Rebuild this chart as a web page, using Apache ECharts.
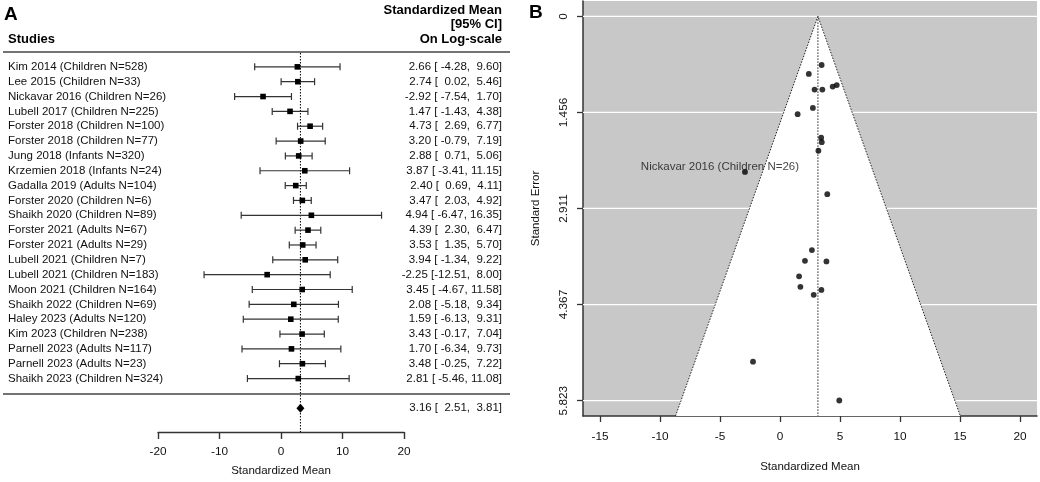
<!DOCTYPE html>
<html>
<head>
<meta charset="utf-8">
<script src="https://cdn.jsdelivr.net/npm/echarts@6/dist/echarts.min.js"></script>
<style>
html,body{margin:0;padding:0;background:#fff;}
#chart{width:1040px;height:482px;}
</style>
</head>
<body>
<div id="chart"></div>
<script>
const studies = [
  'Kim 2014 (Children N=528)', 'Lee 2015 (Children N=33)', 'Nickavar 2016 (Children N=26)',
  'Lubell 2017 (Children N=225)', 'Forster 2018 (Children N=100)', 'Forster 2018 (Children N=77)',
  'Jung 2018 (Infants N=320)', 'Krzemien 2018 (Infants N=24)', 'Gadalla 2019 (Adults N=104)',
  'Forster 2020 (Children N=6)', 'Shaikh 2020 (Children N=89)', 'Forster 2021 (Adults N=67)',
  'Forster 2021 (Adults N=29)', 'Lubell 2021 (Children N=7)', 'Lubell 2021 (Children N=183)',
  'Moon 2021 (Children N=164)', 'Shaikh 2022 (Children N=69)', 'Haley 2023 (Adults N=120)',
  'Kim 2023 (Children N=238)', 'Parnell 2023 (Adults N=117)', 'Parnell 2023 (Adults N=23)',
  'Shaikh 2023 (Children N=324)'
];
const estimates = [2.66, 2.74, -2.92, 1.47, 4.73, 3.20, 2.88, 3.87, 2.40, 3.47, 4.94, 4.39, 3.53, 3.94, -2.25, 3.45, 2.08, 1.59, 3.43, 1.70, 3.48, 2.81];
const lowerCI = [-4.28, 0.02, -7.54, -1.43, 2.69, -0.79, 0.71, -3.41, 0.69, 2.03, -6.47, 2.30, 1.35, -1.34, -12.51, -4.67, -5.18, -6.13, -0.17, -6.34, -0.25, -5.46];
const upperCI = [9.60, 5.46, 1.70, 4.38, 6.77, 7.19, 5.06, 11.15, 4.11, 4.92, 16.35, 6.47, 5.70, 9.22, 8.00, 11.58, 9.34, 9.31, 7.04, 9.73, 7.22, 11.08];
const standardErrors = [3.541, 1.388, 2.357, 1.482, 1.041, 2.036, 1.110, 3.714, 0.872, 0.737, 5.821, 1.064, 1.110, 2.694, 5.232, 4.145, 3.704, 3.939, 1.839, 4.099, 1.906, 4.219];
const summaryValues = [3.16, 2.51, 3.81];
const forestTicks = [-20, -10, 0, 10, 20];
const funnelXTicks = [-15, -10, -5, 0, 5, 10, 15, 20];
const funnelYTicks = [0, 1.456, 2.911, 4.367, 5.823];
const funnelYLabels = ['0', '1.456', '2.911', '4.367', '5.823'];
const labelledStudy = 2;

const FONT = '"Liberation Sans", Arial, Helvetica, sans-serif';
const FS = 11.5;
const TXT = '#111';

function f2(v) { return v.toFixed(2); }
function ciText(e, lo, hi) {
  return f2(e) + ' [' + f2(lo).padStart(6, ' ') + ', ' + f2(hi).padStart(5, ' ') + ']';
}

const forestData = studies.map((s, i) => [i, estimates[i], lowerCI[i], upperCI[i]]);
const FY_MIN = -1, FY_MAX = 24.6;
const FUN_X_MIN = -16.42, FUN_X_MAX = 21.42, FUN_Y_MIN = -0.233, FUN_Y_MAX = 6.056;

const chart = echarts.init(document.getElementById('chart'), null, {renderer: 'canvas'});

const option = {
  animation: false,
  backgroundColor: '#fff',
  textStyle: {fontFamily: FONT},
  grid: [
    {left: 158, right: 1040 - 404, top: 52, bottom: 482 - 433, containLabel: false},
    {left: 583, right: 3, top: 1, bottom: 482 - 416, containLabel: false, show: true, backgroundColor: '#c8c8c8', borderWidth: 0}
  ],
  xAxis: [
    {
      gridIndex: 0, type: 'value', min: -20, max: 20, interval: 10,
      axisLine: {show: true, onZero: false, lineStyle: {color: '#333', width: 1.4}},
      axisTick: {show: true, length: 7, lineStyle: {color: '#333', width: 1.4}},
      axisLabel: {color: TXT, fontSize: FS + 0.3, fontFamily: FONT, margin: 14},
      splitLine: {show: false},
      name: 'Standardized Mean', nameLocation: 'middle', nameGap: 33,
      nameTextStyle: {color: TXT, fontSize: FS, fontFamily: FONT}
    },
    {
      gridIndex: 1, type: 'value', min: FUN_X_MIN, max: FUN_X_MAX,
      axisLine: {show: true, onZero: false, lineStyle: {color: '#333', width: 1.5}},
      axisTick: {show: true, length: 6, customValues: funnelXTicks, lineStyle: {color: '#333', width: 1.3}},
      axisLabel: {color: TXT, fontSize: FS + 0.3, fontFamily: FONT, margin: 15, customValues: funnelXTicks},
      splitLine: {show: false},
      name: 'Standardized Mean', nameLocation: 'middle', nameGap: 45,
      nameTextStyle: {color: TXT, fontSize: FS, fontFamily: FONT}
    }
  ],
  yAxis: [
    {gridIndex: 0, type: 'value', min: FY_MIN, max: FY_MAX, inverse: true, show: false},
    {
      gridIndex: 1, type: 'value', min: FUN_Y_MIN, max: FUN_Y_MAX, inverse: true,
      axisLine: {show: true, onZero: false, lineStyle: {color: '#333', width: 1.5}},
      axisTick: {show: true, length: 6, customValues: funnelYTicks, lineStyle: {color: '#333', width: 1.3}},
      axisLabel: {color: TXT, fontSize: FS + 0.3, fontFamily: FONT, margin: 13, rotate: 90,
        customValues: funnelYTicks,
        formatter: function (v) {
          const idx = funnelYTicks.indexOf(v);
          return idx >= 0 ? funnelYLabels[idx] : '';
        }},
      splitLine: {show: false},
      name: 'Standard Error', nameLocation: 'middle', nameGap: 41, nameRotate: 90,
      nameTextStyle: {color: TXT, fontSize: FS, fontFamily: FONT}
    }
  ],
  graphic: [
    {type: 'text', left: 4, top: 5, style: {text: 'A', fill: '#000', font: 'bold 19px ' + FONT}},
    {type: 'text', left: 529, top: 3, style: {text: 'B', fill: '#000', font: 'bold 19px ' + FONT}},
    {type: 'text', x: 8, y: 39.5, style: {text: 'Studies', fill: '#000', font: 'bold 13px ' + FONT, align: 'left', verticalAlign: 'middle'}},
    {type: 'text', x: 502, y: 10.5, style: {text: 'Standardized Mean', fill: '#000', font: 'bold 13px ' + FONT, align: 'right', verticalAlign: 'middle'}},
    {type: 'text', x: 502, y: 24.5, style: {text: '[95% CI]', fill: '#000', font: 'bold 13px ' + FONT, align: 'right', verticalAlign: 'middle'}},
    {type: 'text', x: 502, y: 39.5, style: {text: 'On Log-scale', fill: '#000', font: 'bold 13px ' + FONT, align: 'right', verticalAlign: 'middle'}},
    {type: 'line', shape: {x1: 3, y1: 52, x2: 510, y2: 52}, style: {stroke: '#444', lineWidth: 1.7}},
    {type: 'line', shape: {x1: 3, y1: 394, x2: 510, y2: 394}, style: {stroke: '#444', lineWidth: 1.7}}
  ],
  series: [
    {
      type: 'custom', xAxisIndex: 0, yAxisIndex: 0, z: 3,
      clip: false,
      data: forestData,
      renderItem: function (params, api) {
        const k = api.value(0), e = api.value(1), lo = api.value(2), hi = api.value(3);
        const pe = api.coord([e, k]);
        const pl = api.coord([lo, k]);
        const ph = api.coord([hi, k]);
        const y = pe[1];
        const ls = {stroke: '#333', lineWidth: 1.2};
        return {
          type: 'group',
          children: [
            {type: 'line', shape: {x1: pl[0], y1: y, x2: ph[0], y2: y}, style: ls},
            {type: 'line', shape: {x1: pl[0], y1: y - 3.5, x2: pl[0], y2: y + 3.5}, style: ls},
            {type: 'line', shape: {x1: ph[0], y1: y - 3.5, x2: ph[0], y2: y + 3.5}, style: ls},
            {type: 'rect', shape: {x: pe[0] - 2.8, y: y - 2.8, width: 5.6, height: 5.6}, style: {fill: '#000'}},
            {type: 'text', x: 8, y: y, style: {text: studies[params.dataIndex], fill: TXT, fontSize: FS, fontFamily: FONT, align: 'left', verticalAlign: 'middle'}},
            {type: 'text', x: 502, y: y, style: {text: ciText(e, lo, hi), fill: TXT, fontSize: FS, fontFamily: FONT, align: 'right', verticalAlign: 'middle'}}
          ]
        };
      }
    },
    {
      type: 'custom', xAxisIndex: 0, yAxisIndex: 0, z: 2,
      clip: false,
      data: [[studies.length + 1, summaryValues[0], summaryValues[1], summaryValues[2]]],
      renderItem: function (params, api) {
        const k = api.value(0), e = api.value(1), lo = api.value(2), hi = api.value(3);
        const pe = api.coord([e, k]);
        const pl = api.coord([lo, k]);
        const ph = api.coord([hi, k]);
        const top = api.coord([e, FY_MIN]);
        const bot = api.coord([e, FY_MAX]);
        const y = pe[1];
        return {
          type: 'group',
          children: [
            {type: 'line', shape: {x1: top[0], y1: top[1] + 1, x2: bot[0], y2: bot[1]}, style: {stroke: '#000', lineWidth: 1, lineDash: [1.5, 1.5]}},
            {type: 'polygon', shape: {points: [[pl[0], y], [pe[0], y - 4.5], [ph[0], y], [pe[0], y + 4.5]]}, style: {fill: '#000'}},
            {type: 'text', x: 502, y: y, style: {text: ciText(e, lo, hi), fill: TXT, fontSize: FS, fontFamily: FONT, align: 'right', verticalAlign: 'middle'}}
          ]
        };
      }
    },
    {
      type: 'custom', xAxisIndex: 1, yAxisIndex: 1, z: 1,
      silent: true,
      data: [[summaryValues[0]]],
      renderItem: function (params, api) {
        const c = api.value(0);
        const children = [];
        funnelYTicks.forEach(function (t) {
          const a = api.coord([FUN_X_MIN, t]);
          const b = api.coord([FUN_X_MAX, t]);
          children.push({type: 'line', shape: {x1: a[0], y1: a[1], x2: b[0], y2: b[1]}, style: {stroke: '#fff', lineWidth: 1.2}});
        });
        const apex = api.coord([c, 0]);
        const bl = api.coord([c - 1.96 * FUN_Y_MAX, FUN_Y_MAX]);
        const br = api.coord([c + 1.96 * FUN_Y_MAX, FUN_Y_MAX]);
        const cb = api.coord([c, FUN_Y_MAX]);
        children.push({type: 'polygon', shape: {points: [apex, bl, br]}, style: {fill: '#fff'}});
        const dot = {stroke: '#222', lineWidth: 1, lineDash: [1.5, 1.5], fill: null};
        children.push({type: 'polyline', shape: {points: [bl, apex, br]}, style: dot});
        children.push({type: 'line', shape: {x1: apex[0], y1: apex[1], x2: cb[0], y2: cb[1]}, style: dot});
        return {type: 'group', children: children};
      }
    },
    {
      type: 'scatter', xAxisIndex: 1, yAxisIndex: 1, z: 4,
      symbol: 'circle', symbolSize: 5.8,
      itemStyle: {color: '#000'},
      data: estimates.map(function (e, i) {
        const item = {value: [e, standardErrors[i]]};
        if (i === labelledStudy) {
          item.label = {show: true, formatter: studies[i], position: 'inside', offset: [-25, -5],
            color: TXT, fontSize: FS, fontFamily: FONT};
        }
        return item;
      })
    }
  ]
};
chart.setOption(option);
</script>
</body>
</html>
